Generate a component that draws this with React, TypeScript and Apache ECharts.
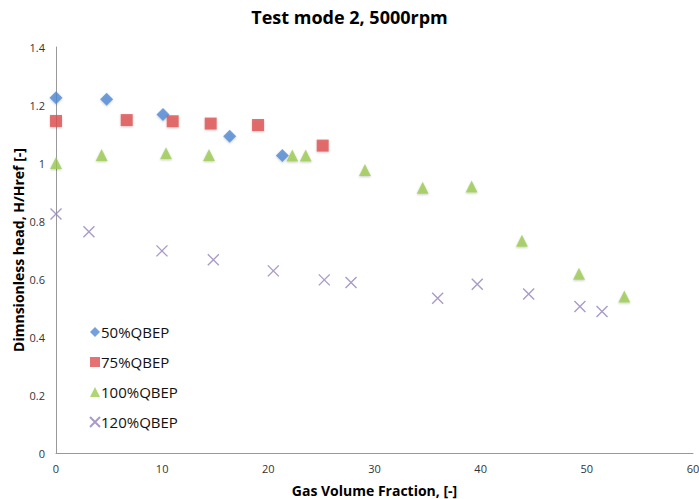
import React, { useEffect, useRef } from "react";
import * as echarts from "echarts";

const titleText = "Test mode 2, 5000rpm";
const xAxisName = "Gas Volume Fraction, [-]";
const yAxisName = "Dimnsionless head, H/Href [-]";
const seriesNames = ["50%QBEP", "75%QBEP", "100%QBEP", "120%QBEP"];

const q50: [number, number][] = [
  [0, 1.225], [4.77, 1.22], [10.08, 1.167], [16.36, 1.092], [21.32, 1.026],
];
const q75: [number, number][] = [
  [0, 1.145], [6.66, 1.148], [10.99, 1.144], [14.57, 1.136], [19.03, 1.131], [25.12, 1.06],
];
const q100: [number, number][] = [
  [0, 1.0], [4.3, 1.028], [10.36, 1.034], [14.41, 1.028], [22.26, 1.026], [23.52, 1.026],
  [29.1, 0.976], [34.54, 0.915], [39.15, 0.919], [43.89, 0.732], [49.26, 0.618], [53.53, 0.54],
];
const q120: [number, number][] = [
  [0, 0.824], [3.1, 0.763], [9.98, 0.697], [14.82, 0.666], [20.47, 0.628], [25.27, 0.597],
  [27.79, 0.588], [35.95, 0.534], [39.68, 0.582], [44.52, 0.548], [49.35, 0.505], [51.43, 0.488],
];

const FONT = "'Open Sans', 'Noto Sans', sans-serif";
const crossPath = "path://M0,0L10,10M10,0L0,10";

export default function App() {
  const ref = useRef<HTMLDivElement>(null);
  useEffect(() => {
    if (!ref.current) return;
    const chart = echarts.init(ref.current, undefined, { renderer: "svg" });
    const shadow = {
      shadowColor: "rgba(0,0,0,0.25)",
      shadowBlur: 2,
      shadowOffsetY: 1,
    };
    chart.setOption({
      animation: false,
      backgroundColor: "#ffffff",
      title: {
        text: titleText,
        left: "center",
        top: 3,
        textStyle: { fontFamily: FONT, fontSize: 18, fontWeight: "bold", color: "#000" },
      },
      legend: {
        orient: "vertical",
        left: 84,
        top: 317,
        itemGap: 10,
        itemWidth: 10,
        itemHeight: 10,
        textStyle: { fontFamily: FONT, fontSize: 15, color: "#111", padding: [0, 0, 0, -4], lineHeight: 20 },
        data: seriesNames,
      },
      grid: {
        left: 56,
        right: 6,
        top: 47,
        bottom: 46,
        containLabel: false,
        outerBoundsMode: "none",
      },
      xAxis: {
        type: "value",
        min: 0,
        max: 60,
        interval: 10,
        name: xAxisName,
        nameLocation: "middle",
        nameGap: 30,
        nameMoveOverlap: false,
        nameTextStyle: { fontFamily: FONT, fontSize: 14, fontWeight: "bold", color: "#000" },
        axisLine: { show: true, lineStyle: { color: "#999", width: 1 } },
        axisTick: { show: false },
        splitLine: { show: false },
        axisLabel: { fontFamily: FONT, fontSize: 11, color: "#333", margin: 10 },
      },
      yAxis: {
        type: "value",
        min: 0,
        max: 1.4,
        interval: 0.2,
        name: yAxisName,
        nameLocation: "middle",
        nameGap: 31,
        nameMoveOverlap: false,
        nameTextStyle: { fontFamily: FONT, fontSize: 14, fontWeight: "bold", color: "#000" },
        axisLine: { show: true, lineStyle: { color: "#999", width: 1 } },
        axisTick: { show: false },
        splitLine: { show: false },
        axisLabel: {
          fontFamily: FONT,
          fontSize: 11,
          color: "#333",
          margin: 11,
          formatter: (v: number) => String(Math.round(v * 10) / 10),
        },
      },
      series: [
        {
          name: seriesNames[0],
          type: "scatter",
          symbol: "diamond",
          symbolSize: 13,
          data: q50,
          itemStyle: { color: "#4F8AD6", ...shadow },
        },
        {
          name: seriesNames[1],
          type: "scatter",
          symbol: "rect",
          symbolSize: 12,
          data: q75,
          itemStyle: { color: "#DE4F4F", ...shadow },
        },
        {
          name: seriesNames[2],
          type: "scatter",
          symbol: "triangle",
          symbolSize: 12,
          data: q100,
          itemStyle: { color: "#9BCB52", ...shadow },
        },
        {
          name: seriesNames[3],
          type: "scatter",
          symbol: crossPath,
          symbolSize: 11,
          data: q120,
          itemStyle: { color: "rgba(0,0,0,0)", borderColor: "#9482B6", borderWidth: 1.4 },
        },
      ],
    });
    return () => chart.dispose();
  }, []);
  return (
    <div
      ref={ref}
      style={{ position: "absolute", left: 0, top: 0, width: 699, height: 499, background: "#fff" }}
    />
  );
}
